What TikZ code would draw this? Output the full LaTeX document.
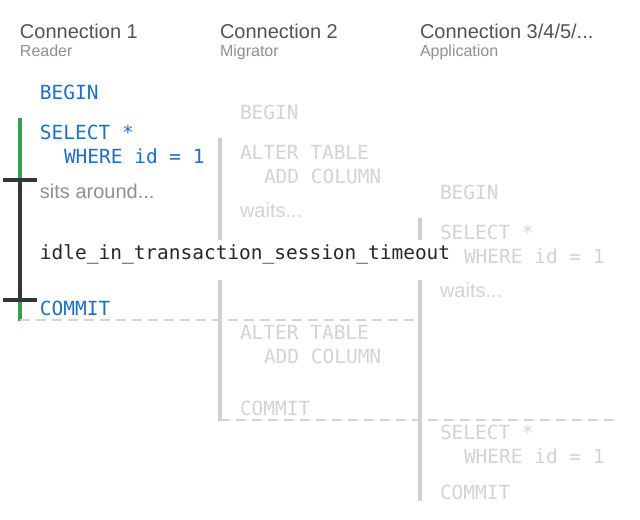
\documentclass[tikz,border=0pt]{standalone}
\usepackage{fontspec}
\setmainfont{Liberation Sans}
\newfontfamily\codefont{DejaVu Sans Mono}
\definecolor{hdr}{HTML}{505458}
\definecolor{sub}{HTML}{8C9196}
\definecolor{codeblue}{HTML}{1F6FC5}
\definecolor{faded}{HTML}{D0D4D9}
\definecolor{barc}{HTML}{CDD1D6}
\definecolor{darkbar}{HTML}{33373D}
\definecolor{greenbar}{HTML}{34A04A}
\definecolor{idlec}{HTML}{24292F}
\begin{document}
\begin{tikzpicture}[x=0.75pt,y=-0.75pt,
  every node/.style={inner sep=0pt,outer sep=0pt,anchor=base west},
  hdrtext/.style={text=hdr,font=\fontsize{15}{18}\selectfont},
  subtext/.style={text=sub,font=\fontsize{12}{14}\selectfont},
  livecode/.style={text=codeblue,font=\codefont\fontsize{14.6}{17}\selectfont},
  fadecode/.style={text=faded,font=\codefont\fontsize{14.6}{17}\selectfont},
  idletext/.style={text=idlec,font=\codefont\fontsize{14.6}{17}\selectfont},
  note/.style={text=sub,font=\fontsize{15}{18}\selectfont},
  fadenote/.style={text=faded,font=\fontsize{15}{18}\selectfont},
  bar/.style={draw=barc,line width=3pt},
  greenline/.style={draw=greenbar,line width=2.4pt},
  darkline/.style={draw=darkbar,line width=3pt},
  sepline/.style={draw=faded,line width=1.5pt,dash pattern=on 7.5pt off 4.5pt}]
\useasboundingbox[fill=white] (0,0) rectangle (640,520);
% headers
\node[hdrtext] (h1) at (20,39) {Connection 1};
\node[subtext] (s1) at (20,57) {Reader};
\node[hdrtext] (h2) at (220,39) {Connection 2};
\node[subtext] (s2) at (220,57) {Migrator};
\node[hdrtext] (h3) at (420,39) {Connection 3/4/5/...};
\node[subtext] (s3) at (420,57) {Application};
% connection 1
\coordinate (g1) at (20,118);
\coordinate (g2) at (20,321);
\draw[greenline] (g1) -- (g2);
\coordinate (d1) at (20,180);
\coordinate (d2) at (20,300);
\coordinate (t1a) at (3,180); \coordinate (t1b) at (37,180);
\coordinate (t2a) at (3,300); \coordinate (t2b) at (37,300);
\draw[darkline] (d1) -- (d2);
\draw[darkline] (t1a) -- (t1b);
\draw[darkline] (t2a) -- (t2b);
\node[livecode] (c1begin) at (40,100) {BEGIN};
\node[livecode] (c1sel) at (40,140) {SELECT *};
\node[livecode] (c1where) at (64,164) {WHERE id = 1};
\node[note] (c1sits) at (40,199) {sits around...};
\node[livecode] (c1commit) at (40,316) {COMMIT};
% connection 2
\coordinate (b2a) at (220,138); \coordinate (b2b) at (220,240);
\coordinate (b2c) at (220,280); \coordinate (b2d) at (220,421);
\draw[bar] (b2a) -- (b2b);
\draw[bar] (b2c) -- (b2d);
\node[fadecode] (c2begin) at (240,120) {BEGIN};
\node[fadecode] (c2alter) at (240,160) {ALTER TABLE};
\node[fadecode] (c2add) at (264,184) {ADD COLUMN};
\node[fadenote] (c2wait) at (240,218) {waits...};
\node[fadecode] (c2alter2) at (240,340) {ALTER TABLE};
\node[fadecode] (c2add2) at (264,364) {ADD COLUMN};
\node[fadecode] (c2commit) at (240,416) {COMMIT};
% connection 3
\coordinate (b3a) at (420,218); \coordinate (b3b) at (420,240);
\coordinate (b3c) at (420,280); \coordinate (b3d) at (420,501);
\draw[bar] (b3a) -- (b3b);
\draw[bar] (b3c) -- (b3d);
\node[fadecode] (c3begin) at (440,200) {BEGIN};
\node[fadecode] (c3sel) at (440,240) {SELECT *};
\node[fadecode] (c3where) at (464,264) {WHERE id = 1};
\node[fadenote] (c3wait) at (440,298) {waits...};
\node[fadecode] (c3sel2) at (440,440) {SELECT *};
\node[fadecode] (c3where2) at (464,464) {WHERE id = 1};
\node[fadecode] (c3commit) at (440,500) {COMMIT};
% separators
\coordinate (sa) at (20,320); \coordinate (sb) at (420,320);
\coordinate (sc) at (220,420); \coordinate (sd) at (620,420);
\draw[sepline] (sa) -- (sb);
\draw[sepline] (sc) -- (sd);
% timeout label
\node[idletext] (idle) at (40,260) {idle\_in\_transaction\_session\_timeout};
\end{tikzpicture}
\end{document}
